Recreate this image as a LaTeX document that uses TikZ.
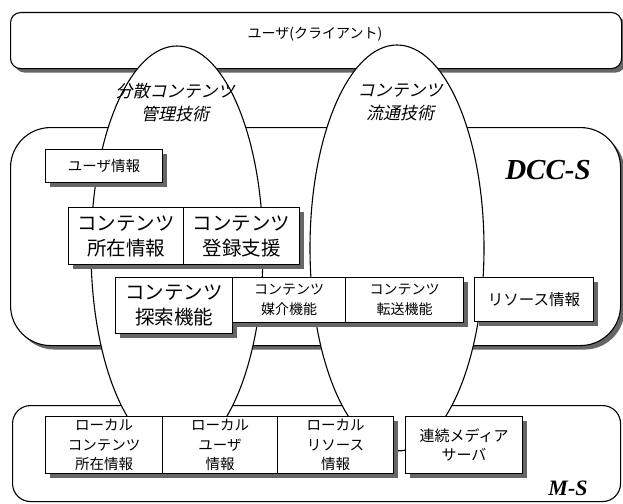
\documentclass[tikz,border=0pt]{standalone}
\usepackage{fontspec}
\setmainfont{Liberation Serif}
\newfontfamily\jp{Noto Sans CJK JP}
\newfontfamily\jpit[FakeSlant=0.22]{Noto Sans CJK JP}
\usetikzlibrary{shadows,shapes.geometric}
\begin{document}
\begin{tikzpicture}[x=1pt,y=-1pt,line width=1.1pt,
  sh/.style={drop shadow={shadow xshift=4pt,shadow yshift=-4pt,fill=black!60,opacity=1}},
  cont/.style={draw,fill=white,rectangle,inner sep=0pt,anchor=north west},
  box/.style={draw,fill=white,rectangle,inner sep=0pt,anchor=north west,align=center,sh},
  bigtxt/.style={font=\jp\fontsize{19.5}{25}\selectfont},
  midtxt/.style={font=\jp\fontsize{14}{20}\selectfont},
  lowtxt/.style={font=\jp\fontsize{14.5}{19.5}\selectfont},
  lens/.style={draw,fill=white,ellipse,inner sep=0pt},
  techlbl/.style={font=\jpit\fontsize{17}{23}\selectfont,align=center},
  syslbl/.style={font=\bfseries\itshape\fontsize{#1}{#1}\selectfont}]
\useasboundingbox (0,0) rectangle (623,503);
% containers
\node[cont,sh,rounded corners=10pt,minimum width=611pt,minimum height=56pt] (client) at (10,12) {};
\node[cont,sh,rounded corners=40pt,minimum width=610pt,minimum height=218pt] (dcc) at (10,127) {};
\node[cont,rounded corners=18pt,minimum width=608pt,minimum height=96pt] (ms) at (12,405) {};
% lenses
\node[lens,minimum width=172pt,minimum height=408pt] (lensA) at (177,250) {};
\node[lens,minimum width=174pt,minimum height=406pt] (lensB) at (397,248) {};
% labels
\node[font=\jp\fontsize{14}{16}\selectfont] (usertxt) at (315,34) {ユーザ(クライアント)};
\node[techlbl] (techA) at (175,103) {分散コンテンツ\\管理技術};
\node[techlbl] (techB) at (400,102) {コンテンツ\\流通技術};
\node[syslbl=29] (dcclbl) at (548,170) {DCC-S};
\node[syslbl=22] (mslbl) at (568,488) {M-S};
% DCC-S boxes
\node[box,font=\jp\fontsize{14.5}{18}\selectfont,minimum width=117pt,minimum height=33pt] (uinfo) at (45,149) {ユーザ情報};
\node[box,bigtxt,minimum width=115pt,minimum height=57pt] (loc) at (68,207) {コンテンツ\\所在情報};
\node[box,bigtxt,minimum width=116pt,minimum height=57pt] (reg) at (183,207) {コンテンツ\\登録支援};
\node[box,bigtxt,minimum width=117pt,minimum height=56pt] (search) at (115,277) {コンテンツ\\探索機能};
\node[box,midtxt,minimum width=113pt,minimum height=45pt] (med) at (232,277) {コンテンツ\\媒介機能};
\node[box,midtxt,minimum width=118pt,minimum height=45pt] (trans) at (345,277) {コンテンツ\\転送機能};
\node[box,font=\jp\fontsize{15.5}{18}\selectfont,minimum width=119pt,minimum height=44pt] (res) at (474,277) {リソース情報};
% M-S boxes
\node[box,lowtxt,minimum width=117pt,minimum height=57pt] (lcon) at (45,416) {ローカル\\コンテンツ\\所在情報};
\node[box,lowtxt,minimum width=115pt,minimum height=57pt] (luser) at (162,416) {ローカル\\ユーザ\\情報};
\node[box,lowtxt,minimum width=116pt,minimum height=57pt] (lres) at (277,416) {ローカル\\リソース\\情報};
\node[box,font=\jp\fontsize{15}{19}\selectfont,minimum width=117pt,minimum height=57pt] (media) at (405,416) {連続メディア\\サーバ};
% connector
\draw ([xshift=4pt,yshift=-5.5pt]lres.east) -- ([yshift=-5.5pt]media.west);
\end{tikzpicture}
\end{document}
